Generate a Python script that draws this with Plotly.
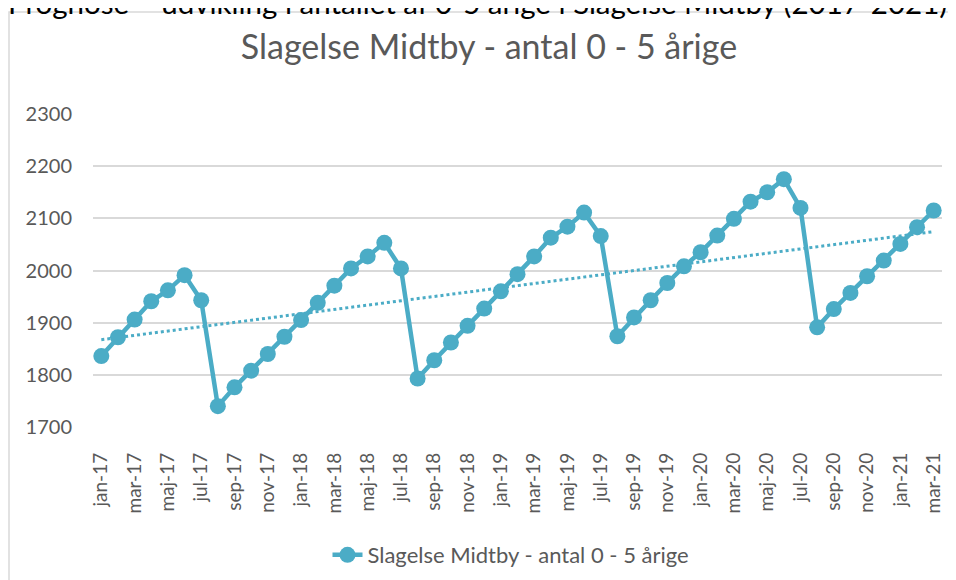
import numpy as np
import plotly.graph_objects as go

months = ["jan", "feb", "mar", "apr", "maj", "jun", "jul", "aug", "sep", "okt", "nov", "dec"]
years = ["17", "18", "19", "20", "21"]
labels = [f"{m}-{y}" for y in years for m in months][:51]

values = [
    1836, 1872, 1906, 1941, 1962, 1991, 1943, 1740, 1776, 1808, 1840, 1873,
    1905, 1938, 1971, 2004, 2027, 2053, 2004, 1793, 1828, 1862, 1894, 1927,
    1960, 1993, 2027, 2063, 2084, 2111, 2066, 1874, 1910, 1943, 1976, 2008,
    2035, 2067, 2099, 2132, 2150, 2175, 2120, 1891, 1926, 1957, 1989, 2019,
    2051, 2083, 2115,
]
series_name = "Slagelse Midtby - antal 0 - 5 årige"
chart_title = "Slagelse Midtby - antal 0 - 5 årige"
outer_title = "Prognose – udvikling i antallet af 0-5 årige i Slagelse Midtby (2017-2021)"
y_ticks = [1700, 1800, 1900, 2000, 2100, 2200, 2300]

x = np.arange(len(values))
slope, intercept = np.polyfit(x, values, 1)
trend = slope * x + intercept

color = "#4BACC6"
font_family = "Lato, 'Open Sans', sans-serif"
grey = "#595959"

W, H = 948, 572  # page body has an 8px margin

fig = go.Figure()
fig.add_trace(go.Scatter(
    x=x, y=trend, mode="lines", showlegend=False, hoverinfo="skip",
    line=dict(color=color, width=3, dash="dot"),
))
fig.add_trace(go.Scatter(
    x=x, y=values, mode="lines+markers", name=series_name,
    line=dict(color=color, width=4.5),
    marker=dict(color=color, size=16),
))

fig.update_layout(
    width=W, height=H,
    margin=dict(l=85, r=14, t=106, b=153, autoexpand=False),
    paper_bgcolor="white", plot_bgcolor="white",
    font=dict(family=font_family, color=grey),
    title=dict(text=chart_title, x=481 / W, xanchor="center", xref="container",
               y=1 - 39 / H, yanchor="middle", yref="container",
               font=dict(size=34, color=grey, family=font_family)),
    showlegend=True,
    legend=dict(orientation="h", x=(511 - 93) / 849, xanchor="center", y=-0.409, yanchor="middle",
                font=dict(size=22, color=grey, family=font_family)),
    xaxis=dict(
        range=[-0.5, len(values) - 0.5], automargin=False,
        tickmode="array", tickvals=list(x[::2]), ticktext=labels[::2],
        tickangle=-90, tickfont=dict(size=19, color=grey),
        showgrid=False, zeroline=False, showline=False, ticks="",
        ticklabelstandoff=21,
    ),
    yaxis=dict(
        range=[1700, 2300], tickmode="array", tickvals=y_ticks, automargin=False,
        tickfont=dict(size=20, color=grey),
        showgrid=True, gridcolor="#D9D9D9", gridwidth=1.5,
        zeroline=False, showline=False, ticks="",
        ticklabelstandoff=20,
    ),
    shapes=[dict(type="rect", xref="paper", yref="paper",
                 x0=(9 - 93) / 849, x1=1.2, y0=-0.7, y1=(427 - 12) / 313,
                 line=dict(color="#D9D9D9", width=1.5), layer="below")],
    annotations=[dict(text=outer_title, xref="paper", yref="paper",
                      x=(477 - 93) / 849, xanchor="center",
                      y=405 / 313, yanchor="bottom", showarrow=False,
                      font=dict(size=29.5, color="black", family="Lato, sans-serif"))],
)

fig.write_html("out.html")
